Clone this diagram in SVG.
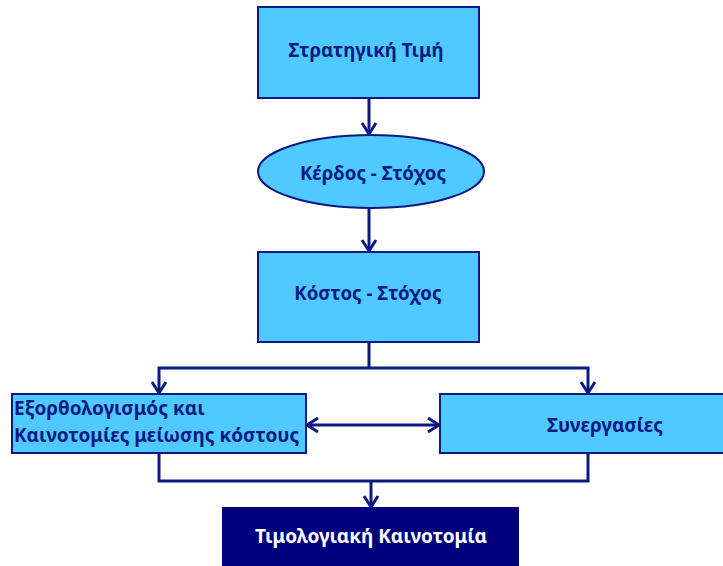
<svg xmlns="http://www.w3.org/2000/svg" width="723" height="566" viewBox="0 0 723 566">
<style>
.box{fill:#4FC9FF;stroke:#0A1A80;stroke-width:2}
.dark{fill:#00007F;stroke:#00007F;stroke-width:2}
.t{font-family:"Noto Sans","DejaVu Sans",sans-serif;font-weight:bold;font-size:19px;fill:#0A1A80}
.s{font-size:18.7px}
.c{text-anchor:middle}
.w{fill:#FFFFFF}
.ln{fill:none;stroke:#0A1A80;stroke-width:3}
</style>
<defs>
<marker id="ah" markerUnits="userSpaceOnUse" markerWidth="16" markerHeight="18" refX="13" refY="9" orient="auto-start-reverse" viewBox="0 0 16 18">
<path d="M2,2 L13,9 L2,16" fill="none" stroke="#0A1A80" stroke-width="3"/>
</marker>
</defs>
<rect width="723" height="566" fill="#FFFFFF"/>
<g id="connectors">
<line class="ln" x1="369" y1="98" x2="369" y2="134" marker-end="url(#ah)"/>
<line class="ln" x1="369" y1="208" x2="369" y2="251" marker-end="url(#ah)"/>
<line class="ln" x1="369" y1="342" x2="369" y2="368"/>
<polyline class="ln" points="159,393 159,368 588,368 588,393" marker-start="url(#ah)" marker-end="url(#ah)"/>
<line class="ln" x1="307" y1="425" x2="439" y2="425" marker-start="url(#ah)" marker-end="url(#ah)"/>
<polyline class="ln" points="159,453 159,481 588,481 588,453"/>
<line class="ln" x1="371" y1="481" x2="371" y2="507" marker-end="url(#ah)"/>
</g>
<g id="n1">
<rect class="box" x="258" y="7" width="221" height="91"/>
<text class="t s c" x="366" y="57">Στρατηγική Τιμή</text>
</g>
<g id="n2">
<ellipse class="box" cx="371" cy="171.5" rx="113" ry="36.5"/>
<text class="t s c" x="373" y="180">Κέρδος - Στόχος</text>
</g>
<g id="n3">
<rect class="box" x="258" y="252" width="221" height="90"/>
<text class="t s c" x="368" y="300">Κόστος - Στόχος</text>
</g>
<g id="n4">
<rect class="box" x="12" y="394" width="294" height="59"/>
<text class="t" x="14" y="415">Εξορθολογισμός και</text>
<text class="t" x="14" y="442">Καινοτομίες μείωσης κόστους</text>
</g>
<g id="n5">
<rect class="box" x="440" y="394" width="290" height="59"/>
<text class="t c" x="605" y="432">Συνεργασίες</text>
</g>
<g id="n6">
<rect class="dark" x="223" y="508" width="295" height="65"/>
<text class="t c w" x="371" y="543">Τιμολογιακή Καινοτομία</text>
</g>
</svg>
